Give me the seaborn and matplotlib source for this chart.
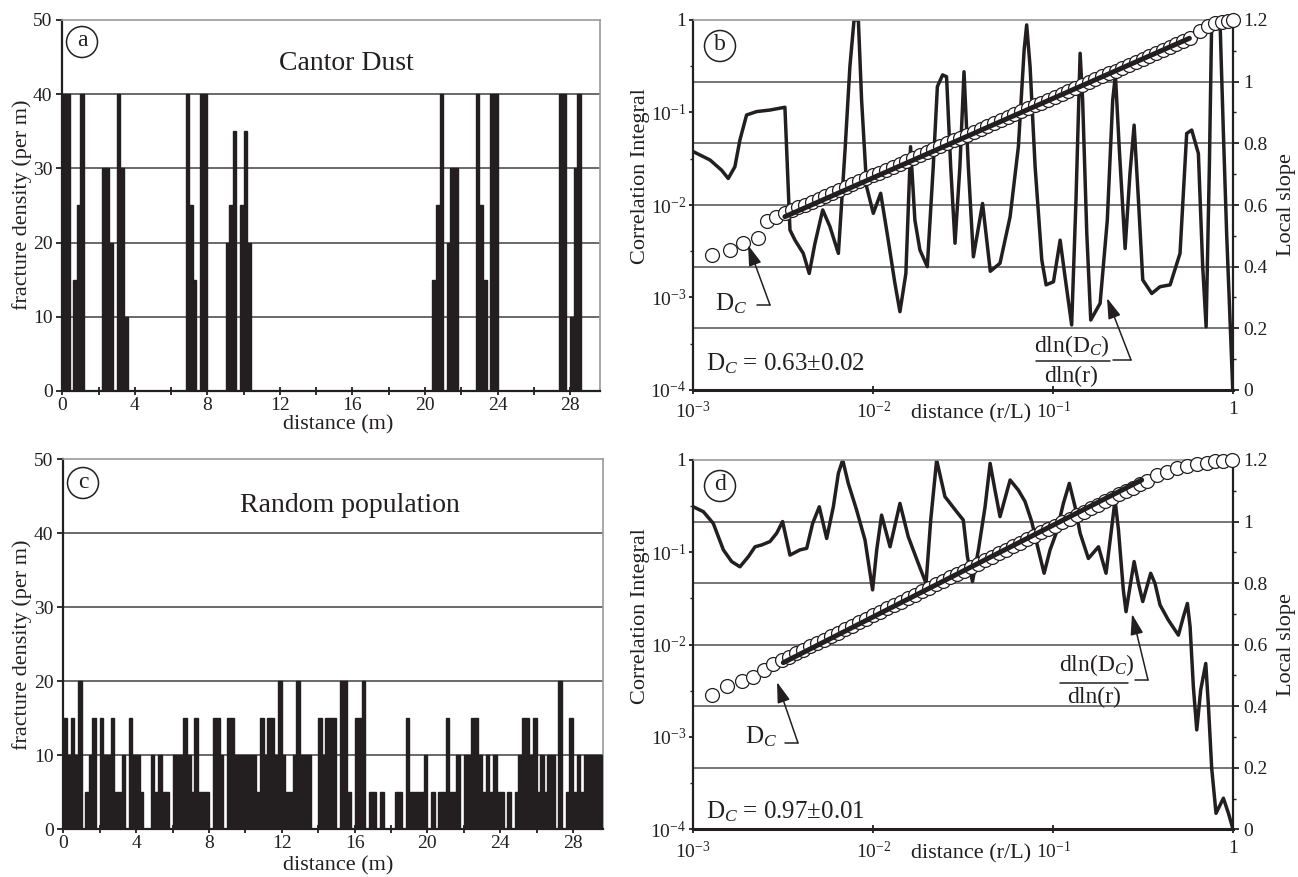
import numpy as np
import pandas as pd
import matplotlib
matplotlib.use("Agg")
import matplotlib.pyplot as plt
import seaborn as sns
from matplotlib.patches import Ellipse, FancyArrowPatch
from matplotlib.lines import Line2D
from matplotlib.ticker import FixedLocator, FixedFormatter, NullLocator, NullFormatter, MultipleLocator

# ---------------- data ----------------
bin_centers_m = np.round(np.arange(0.1, 29.6, 0.2), 1)  # 0.2 m bins

cantor_density = [
    40, 40, 0, 15, 25, 40, 0, 0, 0, 0, 0, 30, 30, 20, 0, 40, 30, 10, 0, 0,
    0, 0, 0, 0, 0, 0, 0, 0, 0, 0, 0, 0, 0, 0, 40, 25, 15, 0, 40, 40,
    0, 0, 0, 0, 0, 20, 25, 35, 0, 25, 35, 20, 0, 0, 0, 0, 0, 0, 0, 0,
    0, 0, 0, 0, 0, 0, 0, 0, 0, 0, 0, 0, 0, 0, 0, 0, 0, 0, 0, 0,
    0, 0, 0, 0, 0, 0, 0, 0, 0, 0, 0, 0, 0, 0, 0, 0, 0, 0, 0, 0,
    0, 0, 15, 25, 40, 0, 20, 30, 30, 0, 0, 0, 0, 0, 40, 25, 15, 0, 40, 40,
    0, 0, 0, 0, 0, 0, 0, 0, 0, 0, 0, 0, 0, 0, 0, 0, 0, 40, 40, 0,
    10, 30, 40, 0, 0, 0, 0, 0]

random_density = [
    15, 10, 15, 10, 20, 0, 5, 10, 15, 0, 15, 10, 10, 15, 5, 5, 10, 0, 15, 10,
    10, 5, 0, 0, 10, 5, 10, 5, 5, 0, 10, 10, 10, 15, 10, 5, 15, 5, 5, 5,
    0, 15, 15, 10, 0, 15, 15, 10, 10, 10, 10, 10, 10, 5, 15, 10, 15, 15, 10, 20,
    10, 5, 5, 10, 20, 10, 10, 10, 0, 0, 15, 10, 15, 15, 15, 0, 20, 20, 5, 0,
    15, 15, 20, 0, 5, 5, 0, 5, 0, 0, 0, 5, 5, 0, 15, 5, 5, 5, 5, 10,
    0, 5, 0, 5, 5, 15, 5, 5, 10, 0, 10, 10, 15, 15, 10, 5, 10, 5, 10, 5,
    5, 0, 5, 0, 5, 10, 15, 15, 10, 15, 5, 10, 5, 10, 10, 0, 20, 0, 5, 15,
    5, 10, 5, 10, 10, 10, 10, 10]

# panel b: local slope curve (log10 r/L, slope)
b_slope_log_r = [
    -3.000, -2.907, -2.843, -2.806, -2.769, -2.741, -2.704, -2.648, -2.574, -2.491,
    -2.463, -2.435, -2.389, -2.356, -2.324, -2.281, -2.241, -2.194, -2.157, -2.130,
    -2.107, -2.083, -2.065, -2.037, -2.000, -1.959, -1.917, -1.880, -1.852, -1.819,
    -1.793, -1.769, -1.741, -1.700, -1.667, -1.644, -1.615, -1.593, -1.570, -1.546,
    -1.519, -1.496, -1.472, -1.444, -1.393, -1.350, -1.296, -1.240, -1.194, -1.162,
    -1.148, -1.129, -1.101, -1.064, -1.040, -0.999, -0.962, -0.935, -0.898, -0.874,
    -0.851, -0.837, -0.814, -0.792, -0.740, -0.700, -0.670, -0.655, -0.633, -0.601,
    -0.574, -0.551, -0.527, -0.503, -0.453, -0.407, -0.351, -0.296, -0.259, -0.231,
    -0.194, -0.170, -0.151, -0.133, -0.120, -0.074, -0.055, -0.037, -0.003]
b_slope = [
    0.773, 0.746, 0.713, 0.686, 0.724, 0.811, 0.892, 0.903, 0.908, 0.917,
    0.519, 0.486, 0.443, 0.378, 0.476, 0.584, 0.530, 0.443, 0.778, 1.049,
    1.200, 1.200, 0.940, 0.659, 0.573, 0.638, 0.486, 0.346, 0.254, 0.378,
    0.789, 0.551, 0.454, 0.400, 0.724, 0.984, 1.022, 1.016, 0.724, 0.476,
    0.724, 1.032, 0.724, 0.432, 0.605, 0.385, 0.411, 0.562, 0.789, 1.103,
    1.184, 1.049, 0.724, 0.422, 0.341, 0.351, 0.486, 0.368, 0.211, 0.616,
    1.092, 0.940, 0.508, 0.227, 0.281, 0.551, 0.940, 1.022, 0.778, 0.459,
    0.703, 0.859, 0.616, 0.357, 0.313, 0.335, 0.341, 0.443, 0.832, 0.843,
    0.767, 0.400, 0.205, 0.724, 1.200, 1.200, 0.832, 0.508, 0.000]

# panel b: correlation integral (log10 r/L, log10 C)
b_circle_log_r = [
    -2.898, -2.796, -2.722, -2.639, -2.589, -2.541, -2.491,
    -2.454, -2.416, -2.379, -2.341, -2.304, -2.266, -2.229, -2.191, -2.154, -2.116,
    -2.079, -2.041, -2.004, -1.966, -1.929, -1.891, -1.854, -1.816, -1.779, -1.741,
    -1.704, -1.666, -1.629, -1.591, -1.554, -1.516, -1.479, -1.441, -1.404, -1.366,
    -1.329, -1.291, -1.254, -1.216, -1.179, -1.141, -1.104, -1.066, -1.029, -0.991,
    -0.954, -0.916, -0.879, -0.841, -0.804, -0.766, -0.729, -0.691, -0.654, -0.616,
    -0.579, -0.541, -0.504, -0.466, -0.429, -0.391, -0.354, -0.316, -0.279, -0.241,
    -0.185, -0.139, -0.102, -0.064, -0.028, 0.000]
b_circle_log_c = [
    -2.541, -2.486, -2.408, -2.361, -2.170, -2.126, -2.090,
    -2.059, -2.027, -1.996, -1.964, -1.933, -1.901, -1.870, -1.838, -1.807, -1.775,
    -1.744, -1.712, -1.681, -1.649, -1.618, -1.586, -1.555, -1.523, -1.492, -1.460,
    -1.429, -1.397, -1.366, -1.334, -1.302, -1.271, -1.240, -1.208, -1.177, -1.145,
    -1.114, -1.082, -1.051, -1.019, -0.987, -0.956, -0.924, -0.893, -0.861, -0.830,
    -0.798, -0.767, -0.735, -0.703, -0.672, -0.640, -0.609, -0.577, -0.546, -0.514,
    -0.483, -0.451, -0.420, -0.388, -0.357, -0.325, -0.294, -0.262, -0.231, -0.199,
    -0.116, -0.065, -0.036, -0.018, -0.007, 0.000]
b_fit_log_r = [-2.491, -0.244]
b_fit_log_c = [-2.126, -0.198]

# panel d: local slope curve
d_slope_log_r = [
    -3.000, -2.944, -2.889, -2.833, -2.787, -2.741, -2.694, -2.657, -2.620, -2.574,
    -2.537, -2.504, -2.463, -2.407, -2.370, -2.337, -2.300, -2.259, -2.222, -2.194,
    -2.170, -2.139, -2.093, -2.046, -2.004, -1.981, -1.954, -1.907, -1.852, -1.806,
    -1.750, -1.707, -1.681, -1.648, -1.602, -1.537, -1.500, -1.477, -1.449, -1.416,
    -1.379, -1.351, -1.324, -1.296, -1.240, -1.194, -1.157, -1.120, -1.083, -1.051,
    -1.018, -0.981, -0.944, -0.911, -0.879, -0.851, -0.805, -0.749, -0.707, -0.675,
    -0.657, -0.638, -0.611, -0.596, -0.574, -0.551, -0.527, -0.503, -0.459, -0.435,
    -0.407, -0.361, -0.305, -0.277, -0.255, -0.240, -0.222, -0.203, -0.181, -0.153,
    -0.138, -0.120, -0.096, -0.055, -0.027, -0.003]
d_slope = [
    1.048, 1.032, 0.994, 0.908, 0.870, 0.853, 0.886, 0.918, 0.924, 0.935,
    0.962, 1.000, 0.891, 0.908, 0.913, 0.994, 1.048, 0.945, 1.048, 1.157,
    1.200, 1.124, 1.038, 0.940, 0.778, 0.908, 1.021, 0.918, 1.059, 0.951,
    0.864, 0.799, 1.005, 1.200, 1.081, 1.032, 1.005, 0.886, 0.805, 0.908,
    1.048, 1.189, 1.102, 1.016, 1.135, 1.102, 1.065, 1.000, 0.908, 0.832,
    0.908, 0.967, 1.059, 1.124, 1.048, 0.962, 0.880, 0.918, 0.832, 0.983,
    1.070, 0.973, 0.778, 0.707, 0.788, 0.870, 0.799, 0.740, 0.832, 0.799,
    0.729, 0.680, 0.631, 0.691, 0.734, 0.658, 0.464, 0.323, 0.453, 0.539,
    0.399, 0.198, 0.052, 0.101, 0.052, 0.003]

d_circle_log_r = [
    -2.898, -2.811, -2.731, -2.667, -2.607, -2.556, -2.509,
    -2.470, -2.431, -2.392, -2.353, -2.314, -2.275, -2.236, -2.197, -2.158, -2.119,
    -2.080, -2.041, -2.002, -1.963, -1.924, -1.885, -1.846, -1.807, -1.768, -1.729,
    -1.690, -1.651, -1.612, -1.573, -1.534, -1.495, -1.456, -1.417, -1.378, -1.339,
    -1.300, -1.261, -1.222, -1.183, -1.144, -1.105, -1.066, -1.027, -0.988, -0.949,
    -0.910, -0.871, -0.832, -0.793, -0.754, -0.715, -0.676, -0.637, -0.598, -0.559,
    -0.520, -0.481,
    -0.425, -0.370, -0.314, -0.259, -0.203, -0.148, -0.101, -0.055, -0.009]
d_circle_log_c = [
    -2.545, -2.448, -2.390, -2.347, -2.274, -2.209, -2.166,
    -2.133, -2.095, -2.058, -2.020, -1.983, -1.945, -1.908, -1.870, -1.833, -1.796,
    -1.758, -1.721, -1.683, -1.646, -1.608, -1.571, -1.534, -1.496, -1.459, -1.421,
    -1.384, -1.346, -1.309, -1.271, -1.234, -1.197, -1.159, -1.122, -1.084, -1.047,
    -1.009, -0.972, -0.934, -0.897, -0.860, -0.822, -0.785, -0.747, -0.710, -0.672,
    -0.635, -0.598, -0.560, -0.523, -0.485, -0.448, -0.410, -0.373, -0.335, -0.298,
    -0.260, -0.223,
    -0.163, -0.126, -0.090, -0.065, -0.043, -0.029, -0.014, -0.007, 0.000]
d_fit_log_r = [-2.500, -0.509]
d_fit_log_c = [-2.195, -0.217]

x_ticks_m = [0, 4, 8, 12, 16, 20, 24, 28]
y_ticks_density = [0, 10, 20, 30, 40, 50]
slope_ticks = [0, 0.2, 0.4, 0.6, 0.8, 1.0, 1.2]
slope_tick_labels = ["0", "0.2", "0.4", "0.6", "0.8", "1", "1.2"]
ci_ticks = [1e-4, 1e-3, 1e-2, 1e-1, 1]
ci_tick_labels = [r"10$^{-4}$", r"10$^{-3}$", r"10$^{-2}$", r"10$^{-1}$", "1"]
r_ticks = [1e-3, 1e-2, 1e-1, 1]
r_tick_labels = [r"10$^{-3}$", r"10$^{-2}$", r"10$^{-1}$", "1"]

# ---------------- style ----------------
sns.set_theme(style="ticks")
plt.rcParams["font.family"] = ["Liberation Serif", "DejaVu Serif"]
plt.rcParams["mathtext.fontset"] = "custom"
plt.rcParams["mathtext.rm"] = "Liberation Serif"
plt.rcParams["mathtext.it"] = "Liberation Serif:italic"
plt.rcParams["mathtext.default"] = "regular"

INK = "#231f20"
GRID = "#505050"
FRAME = "#9a9a9a"
W, H = 1298, 877

fig = plt.figure(figsize=(W / 100, H / 100), dpi=100)


def P(px, py):
    return (px / W, 1 - py / H)


def add_axes_px(left, top, right, bottom):
    return fig.add_axes([left / W, 1 - bottom / H, (right - left) / W, (bottom - top) / H])


ax_a = add_axes_px(62.3, 20, 600, 391)
ax_c = add_axes_px(63.3, 459, 603, 829)
ax_b = add_axes_px(693.3, 20, 1233.3, 390)
ax_d = add_axes_px(693.3, 460, 1233.3, 829.3)


def bar_panel(ax, values):
    df = pd.DataFrame({"x": bin_centers_m, "y": values})
    sns.barplot(data=df, x="x", y="y", native_scale=True, width=1.0, color=INK,
                saturation=1, edgecolor=INK, linewidth=1.0, errorbar=None, ax=ax, zorder=3)
    for g in [10, 20, 30, 40]:
        ax.axhline(g, color=GRID, lw=1.2, zorder=1)
    ax.set_xlim(0, 29.65)
    ax.set_ylim(0, 50)
    ax.set_xticks(x_ticks_m)
    ax.set_xticklabels([str(v) for v in x_ticks_m])
    ax.xaxis.set_minor_locator(FixedLocator([2, 6, 10, 14, 18, 22, 26]))
    ax.set_yticks(y_ticks_density)
    ax.set_yticklabels([str(v) for v in y_ticks_density])
    ax.tick_params(axis="x", which="both", direction="inout", length=6, width=1.3,
                   labelsize=14, pad=1, color=INK, labelcolor=INK)
    ax.tick_params(axis="y", which="major", direction="out", length=4, width=1.3,
                   labelsize=14, pad=3, color=INK, labelcolor=INK)
    ax.set_xlabel("")
    ax.set_ylabel("")
    for s in ["left", "bottom"]:
        ax.spines[s].set_color(INK)
        ax.spines[s].set_linewidth(1.6)
    for s in ["top", "right"]:
        ax.spines[s].set_color(FRAME)
        ax.spines[s].set_linewidth(1.2)
        ax.spines[s].set_visible(True)


bar_panel(ax_a, cantor_density)
bar_panel(ax_c, random_density)


def corr_panel(ax, slope_lr, slope_s, circ_lr, circ_lc, fit_lr, fit_lc):
    ax.set_xscale("log")
    ax.set_xlim(1e-3, 1)
    ax.set_ylim(0, 1.2)
    for g in [0.2, 0.4, 0.6, 0.8, 1.0]:
        ax.axhline(g, color=GRID, lw=1.1, zorder=0)
    sns.lineplot(x=10 ** np.array(slope_lr), y=np.array(slope_s), ax=ax, color=INK, lw=2.5,
                 estimator=None, sort=False, zorder=2)
    ax2 = ax.twinx()
    ax2.set_yscale("log")
    ax2.set_ylim(1e-4, 1)
    sns.scatterplot(x=10 ** np.array(circ_lr), y=10 ** np.array(circ_lc), ax=ax2, s=100,
                    color="white", edgecolor=INK, linewidth=0.9, zorder=3, clip_on=False)
    sns.lineplot(x=10 ** np.array(fit_lr), y=10 ** np.array(fit_lc), ax=ax2, color=INK,
                 lw=3.6, estimator=None, sort=False, zorder=4)
    ax.set_xlim(1e-3, 1)
    ax2.set_ylim(1e-4, 1)
    ax.set_ylim(0, 1.2)

    # right axis: local slope
    ax.yaxis.tick_right()
    ax.set_yticks(slope_ticks)
    ax.set_yticklabels(slope_tick_labels)
    ax.yaxis.set_minor_locator(MultipleLocator(0.1))
    ax.tick_params(axis="y", which="major", direction="out", length=4, width=1.3,
                   labelsize=14, pad=3, left=False, right=True, color=INK, labelcolor=INK)
    ax.tick_params(axis="y", which="minor", direction="out", length=2, width=1.0,
                   left=False, right=True, color=INK)
    # left axis: correlation integral
    ax2.yaxis.tick_left()
    ax2.yaxis.set_major_locator(FixedLocator(ci_ticks))
    ax2.yaxis.set_major_formatter(FixedFormatter(ci_tick_labels))
    ax2.yaxis.set_minor_locator(FixedLocator([10 ** -3.5, 10 ** -2.5, 10 ** -1.5, 10 ** -0.5]))
    ax2.yaxis.set_minor_formatter(NullFormatter())
    ax2.tick_params(axis="y", which="major", direction="out", length=3, width=1.3,
                    labelsize=14, pad=2, left=True, right=False, color=INK, labelcolor=INK)
    ax2.tick_params(axis="y", which="minor", direction="out", length=2, width=1.0,
                    left=True, right=False, color=INK)
    # x axis
    ax.xaxis.set_major_locator(FixedLocator(r_ticks))
    ax.xaxis.set_major_formatter(FixedFormatter(r_tick_labels))
    ax.xaxis.set_minor_locator(NullLocator())
    ax.tick_params(axis="x", which="major", direction="inout", length=6, width=1.3,
                   labelsize=14, pad=5, color=INK, labelcolor=INK)
    ax.set_xlabel("")
    ax.set_ylabel("")
    ax2.set_xlabel("")
    ax2.set_ylabel("")
    for s in ax2.spines.values():
        s.set_visible(False)
    for s in ["left", "right"]:
        ax.spines[s].set_color(INK)
        ax.spines[s].set_linewidth(1.6)
        ax.spines[s].set_visible(True)
    ax.spines["bottom"].set_color(INK)
    ax.spines["bottom"].set_linewidth(2.2)
    ax.spines["top"].set_color(FRAME)
    ax.spines["top"].set_linewidth(1.2)
    ax.spines["top"].set_visible(True)
    return ax2


corr_panel(ax_b, b_slope_log_r, b_slope, b_circle_log_r, b_circle_log_c, b_fit_log_r, b_fit_log_c)
corr_panel(ax_d, d_slope_log_r, d_slope, d_circle_log_r, d_circle_log_c, d_fit_log_r, d_fit_log_c)

# ---------------- text & annotations (figure pixel positions) ----------------
def ftext(px, py, s, size=16, rot=0, ha="center", va="center"):
    fig.text(*P(px, py), s, fontsize=size, rotation=rot, ha=ha, va=va, color=INK)


def fline(p0, p1, lw=1.1):
    fig.add_artist(Line2D([P(*p0)[0], P(*p1)[0]], [P(*p0)[1], P(*p1)[1]],
                          transform=fig.transFigure, color=INK, lw=lw))


def farrow(p0, p1):
    fig.add_artist(FancyArrowPatch(P(*p0), P(*p1), transform=fig.transFigure,
                                   arrowstyle="-|>,head_length=0.9,head_width=0.28",
                                   mutation_scale=14, lw=1.1, color=INK, shrinkA=0, shrinkB=0))


R = 15.5
for cx, cy, letter in [(82, 42, "a"), (720, 46, "b"), (83, 483, "c"), (720, 486, "d")]:
    fig.add_artist(Ellipse(P(cx, cy), 2 * R / W, 2 * R / H, transform=fig.transFigure,
                           fill=False, lw=1.1, ec=INK))
    ftext(cx, cy - 1, letter, size=17)

ftext(346, 64, "Cantor Dust", size=20)
ftext(350, 506, "Random population", size=20)

ftext(22, 205, "fracture density (per m)", size=16, rot=90)
ftext(22, 645, "fracture density (per m)", size=16, rot=90)
ftext(338, 425, "distance (m)", size=16)
ftext(338, 866, "distance (m)", size=16)

ftext(640, 176, "Correlation Integral", size=16, rot=90)
ftext(640, 616, "Correlation Integral", size=16, rot=90)
ftext(1286, 205, "Local slope", size=16, rot=90)
ftext(1286, 645, "Local slope", size=16, rot=90)
ftext(971, 414, "distance (r/L)", size=16)
ftext(971, 854, "distance (r/L)", size=16)

# panel b annotations
ftext(731, 304, r"D$_{\mathit{C}}$", size=18)
fline((757, 305), (770, 305))
farrow((770, 305), (748, 245))
ftext(1072, 346, r"dln(D$_{\mathit{C}}$)", size=17)
fline((1036, 361), (1110, 361))
ftext(1071, 376, "dln(r)", size=17)
fline((1113, 360), (1131, 360))
farrow((1131, 360), (1107, 298))
ftext(706, 364, r"D$_{\mathit{C}}$ = 0.63±0.02", size=18, ha="left")

# panel d annotations
ftext(761, 737, r"D$_{\mathit{C}}$", size=18)
fline((785, 743), (798, 743))
farrow((798, 743), (777, 682))
ftext(1097, 665, r"dln(D$_{\mathit{C}}$)", size=17)
fline((1060, 683), (1128, 683))
ftext(1094, 697, "dln(r)", size=17)
fline((1135, 680), (1148, 680))
farrow((1148, 680), (1132, 614))
ftext(706, 812, r"D$_{\mathit{C}}$ = 0.97±0.01", size=18, ha="left")

fig.savefig("out.png", dpi=100)
